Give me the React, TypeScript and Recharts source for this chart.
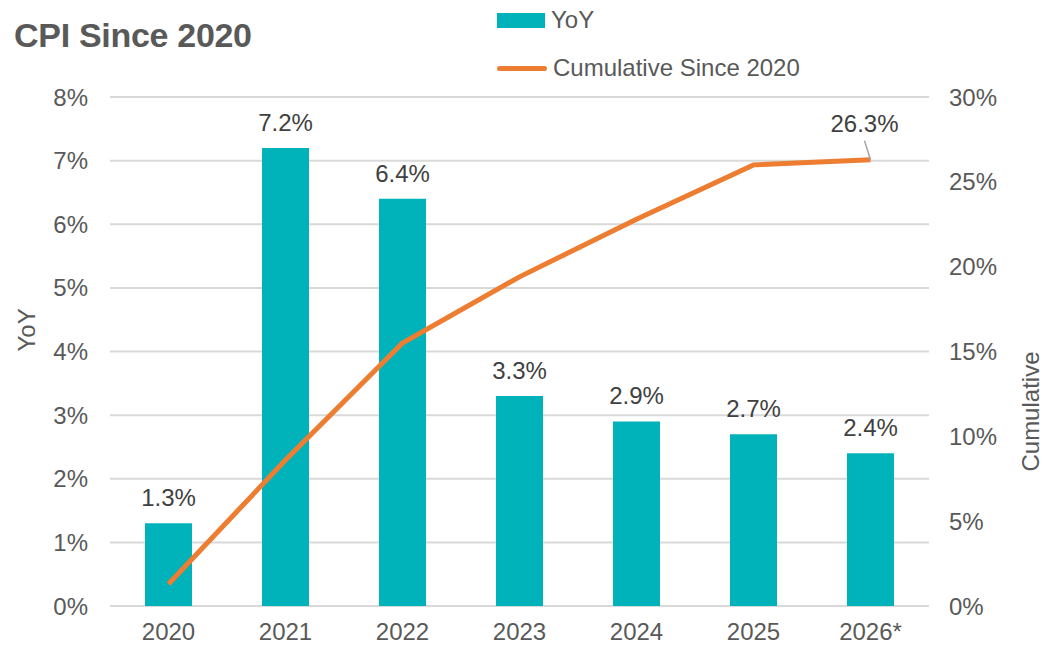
import { Bar, CartesianGrid, ComposedChart, LabelList, Line, XAxis, YAxis } from "recharts";

const years = ["2020", "2021", "2022", "2023", "2024", "2025", "2026*"];
const yoy = [1.3, 7.2, 6.4, 3.3, 2.9, 2.7, 2.4];
const cumulative = [1.3, 8.6, 15.5, 19.4, 22.8, 26.0, 26.3];
const leftTicks = [0, 1, 2, 3, 4, 5, 6, 7, 8];
const rightTicks = [0, 5, 10, 15, 20, 25, 30];

const data = years.map((year, i) => ({ year, yoy: yoy[i], cumulative: cumulative[i] }));

const font = "'Liberation Sans', Arial, sans-serif";
const grey = "#595959";
const teal = "#00B2BA";
const orange = "#ED7D31";
const tick = { fill: grey, fontSize: 24, fontFamily: font };

function LegendBox() {
  return (
    <div
      style={{
        position: "absolute",
        left: 497,
        top: 0,
        fontFamily: font,
        fontSize: 24,
        color: grey,
        lineHeight: "30px",
        zIndex: 1,
      }}
    >
      <div style={{ display: "flex", alignItems: "center", height: 40 }}>
        <span style={{ width: 48, height: 15, background: teal, marginRight: 6 }} />
        YoY
      </div>
      <div style={{ display: "flex", alignItems: "center", height: 56 }}>
        <span style={{ width: 50, height: 5, borderRadius: 3, background: orange, marginRight: 6 }} />
        Cumulative Since 2020
      </div>
    </div>
  );
}

// only the last point gets a label, with a short leader line
function LastLabel(props: any) {
  const { x, y, index, value } = props;
  if (index !== cumulative.length - 1) return null;
  return (
    <g>
      <line x1={x - 6} y1={y - 19} x2={x} y2={y} stroke="#A6A6A6" strokeWidth={1.5} />
      <text x={x - 6} y={y - 28} textAnchor="middle" fill="#404040" fontSize={24} fontFamily={font}>
        {value.toFixed(1)}%
      </text>
    </g>
  );
}

export default function App() {
  return (
    <div style={{ position: "absolute", left: 0, top: 0, width: 1046, height: 647, background: "#fff" }}>
      <div
        style={{
          position: "absolute",
          left: 14,
          top: 16,
          fontFamily: font,
          fontWeight: 700,
          fontSize: 34,
          color: grey,
          letterSpacing: -0.3,
          zIndex: 1,
        }}
      >
        CPI Since 2020
      </div>
      <LegendBox />
      <ComposedChart width={1046} height={647} data={data} margin={{ top: 97, right: 0, bottom: 0, left: 0 }}>
        <CartesianGrid vertical={false} stroke="#D9D9D9" strokeWidth={2} yAxisId="left" />
        <XAxis dataKey="year" height={41} tick={tick} tickLine={false} axisLine={false} tickMargin={11} />
        <YAxis
          yAxisId="left"
          width={110}
          domain={[0, 8]}
          ticks={leftTicks}
          tickFormatter={(v) => `${v}%`}
          tick={tick}
          tickLine={false}
          axisLine={false}
          tickMargin={16}
          label={{ value: "YoY", angle: -90, position: "insideLeft", offset: 26, fill: grey, fontSize: 24, fontFamily: font }}
        />
        <YAxis
          yAxisId="right"
          orientation="right"
          width={117}
          domain={[0, 30]}
          ticks={rightTicks}
          tickFormatter={(v) => `${v}%`}
          tick={{ ...tick, textAnchor: "start" }}
          tickLine={false}
          axisLine={false}
          tickMargin={14}
          label={{ value: "Cumulative", angle: -90, position: "insideRight", offset: 16, fill: grey, fontSize: 24, fontFamily: font }}
        />
        <Bar yAxisId="left" dataKey="yoy" name="YoY" fill={teal} barSize={47} isAnimationActive={false}>
          <LabelList
            dataKey="yoy"
            position="top"
            offset={17}
            formatter={(v: any) => `${Number(v).toFixed(1)}%`}
            style={{ fill: "#404040", fontSize: 24, fontFamily: font }}
          />
        </Bar>
        <Line
          yAxisId="right"
          dataKey="cumulative"
          name="Cumulative Since 2020"
          stroke={orange}
          strokeWidth={5}
          dot={false}
          activeDot={false}
          isAnimationActive={false}
        >
          <LabelList dataKey="cumulative" content={LastLabel} />
        </Line>
      </ComposedChart>
    </div>
  );
}
